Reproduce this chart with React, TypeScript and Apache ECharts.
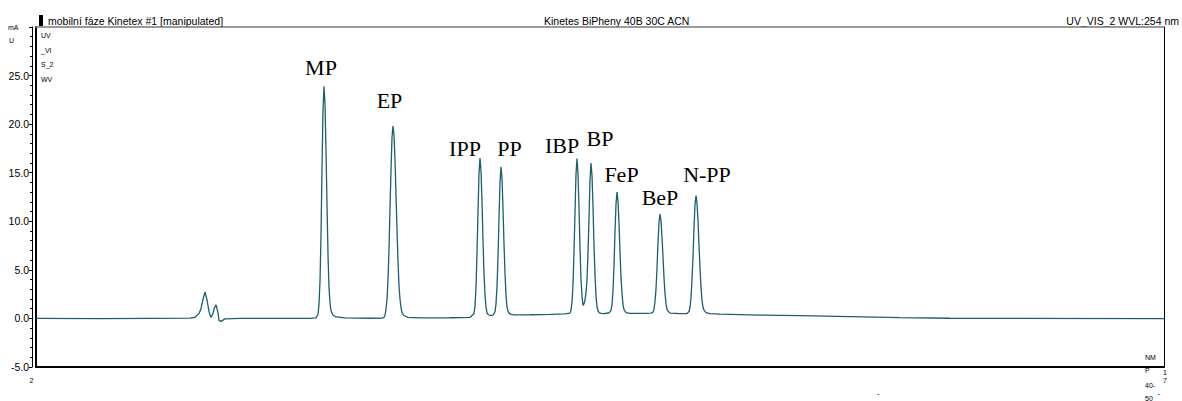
import React, { useEffect, useRef } from "react";
import * as echarts from "echarts";

// Retention time (min) and absorbance (mAU)
const timeMin: number[] = [
  2.0, 2.851, 3.516, 4.048, 4.114, 4.168, 4.194, 4.221, 4.247, 4.274, 4.301, 4.327, 4.354, 4.367, 4.394, 4.42, 4.434, 4.46, 4.513, 4.713,
  5.245, 5.644, 5.723, 5.75, 5.763, 5.777, 5.79, 5.803, 5.816, 5.83, 5.843, 5.856, 5.87, 5.883, 5.896, 5.91, 5.923, 5.949, 5.989, 6.109,
  6.441, 6.601, 6.628, 6.641, 6.654, 6.668, 6.681, 6.694, 6.707, 6.721, 6.734, 6.747, 6.761, 6.774, 6.787, 6.801, 6.814, 6.827, 6.84, 6.854,
  6.867, 6.894, 6.947, 7.106, 7.505, 7.771, 7.824, 7.838, 7.851, 7.864, 7.878, 7.891, 7.904, 7.918, 7.931, 7.944, 7.957, 7.971, 7.984, 7.997,
  8.011, 8.024, 8.051, 8.077, 8.104, 8.117, 8.13, 8.144, 8.157, 8.17, 8.184, 8.197, 8.21, 8.223, 8.237, 8.25, 8.263, 8.277, 8.29, 8.316,
  8.37, 8.569, 8.835, 9.035, 9.101, 9.114, 9.128, 9.141, 9.154, 9.168, 9.181, 9.194, 9.207, 9.221, 9.234, 9.247, 9.261, 9.274, 9.287, 9.301,
  9.314, 9.327, 9.34, 9.354, 9.367, 9.38, 9.394, 9.407, 9.42, 9.434, 9.447, 9.46, 9.473, 9.487, 9.513, 9.553, 9.606, 9.62, 9.646, 9.66,
  9.673, 9.686, 9.699, 9.713, 9.726, 9.739, 9.753, 9.766, 9.779, 9.793, 9.806, 9.819, 9.846, 9.899, 10.098, 10.178, 10.205, 10.218, 10.231, 10.245,
  10.258, 10.271, 10.285, 10.298, 10.311, 10.324, 10.338, 10.351, 10.364, 10.378, 10.391, 10.404, 10.431, 10.564, 10.657, 10.684, 10.697, 10.71, 10.723, 10.737,
  10.75, 10.763, 10.777, 10.79, 10.803, 10.816, 10.83, 10.843, 10.856, 10.87, 10.883, 10.91, 10.963, 11.096, 11.628, 12.16, 12.824, 13.489, 14.154, 14.819,
  17.0,
];

const absorbance: number[] = [
  0.0, -0.02, 0.01, 0.03, 0.12, 0.5, 1.0, 2.0, 2.7, 1.9, 0.7, 0.1, 0.5, 1.0, 1.4, 0.6, -0.2, -0.3, -0.05, 0.0,
  0.0, 0.0, 0.05, 0.4, 1.4, 3.9, 8.6, 15.2, 21.3, 23.9, 22.1, 17.4, 11.6, 6.6, 3.2, 1.6, 0.8, 0.35, 0.15, 0.05,
  0.02, 0.03, 0.1, 0.3, 0.9, 2.0, 4.0, 7.1, 11.1, 15.3, 18.6, 19.8, 18.8, 16.3, 12.8, 9.1, 5.8, 3.4, 2.0, 1.1,
  0.6, 0.3, 0.1, 0.05, 0.07, 0.1, 0.5, 1.3, 3.2, 6.6, 11.0, 14.9, 16.5, 15.2, 12.0, 8.1, 4.7, 2.4, 1.2, 0.6,
  0.4, 0.35, 0.31, 0.33, 0.7, 1.5, 3.2, 6.3, 10.4, 14.0, 15.6, 14.4, 11.4, 7.8, 4.6, 2.4, 1.2, 0.75, 0.55, 0.42,
  0.36, 0.38, 0.42, 0.46, 0.55, 0.85, 1.67, 3.5, 6.8, 11.0, 14.9, 16.45, 15.0, 11.4, 7.3, 4.0, 2.3, 1.35, 1.5, 1.9,
  2.7, 3.9, 6.6, 10.4, 14.2, 16.0, 14.7, 11.5, 7.6, 4.4, 2.3, 1.2, 0.8, 0.6, 0.52, 0.5, 0.56, 0.57, 0.8, 1.45,
  2.9, 5.4, 8.8, 11.8, 13.0, 12.1, 9.8, 6.9, 4.3, 2.5, 1.4, 0.9, 0.6, 0.52, 0.52, 0.55, 0.65, 0.95, 1.7, 3.05,
  5.2, 7.75, 9.9, 10.75, 10.1, 8.4, 6.3, 4.2, 2.6, 1.5, 0.95, 0.75, 0.55, 0.5, 0.5, 0.72, 1.15, 2.1, 3.9, 6.4,
  9.3, 11.7, 12.65, 11.9, 10.1, 7.6, 5.2, 3.2, 1.9, 1.15, 0.85, 0.6, 0.5, 0.45, 0.35, 0.28, 0.18, 0.08, 0.02, 0.0,
  -0.02,
];

const peakNames: string[] = ["MP", "EP", "IPP", "PP", "IBP", "BP", "FeP", "BeP", "N-PP"];
const yTicks: number[] = [-5, 0, 5, 10, 15, 20, 25, 30];

const SANS = "'Liberation Sans', Arial, Helvetica, sans-serif";
const SERIF = "'Liberation Serif', 'Times New Roman', serif";

// label anchor positions (pixels) for peak names
const peakLabelPos: [number, number][] = [
  [321, 67.5], [389.5, 100.5], [465, 148], [509.5, 148], [562, 145.5], [600, 138.5], [621.5, 174.5], [660, 197.5], [707, 174.5],
];

function txt(text: string, x: number, y: number, size: number, align: string = "left", family: string = SANS) {
  return {
    type: "text",
    x,
    y,
    silent: true,
    style: { text, fill: "#000", fontSize: size, fontFamily: family, align, verticalAlign: "middle" },
  };
}

export default function App() {
  const ref = useRef<HTMLDivElement>(null);

  useEffect(() => {
    if (!ref.current) return;
    const chart = echarts.init(ref.current, null, { renderer: "svg" });
    const data = timeMin.map((t, i) => [t, absorbance[i]]);

    const graphic: any[] = [
      { type: "rect", shape: { x: 39, y: 15, width: 4, height: 11 }, style: { fill: "#000" } },
      txt("mobilní fáze Kinetex #1 [manipulated]", 48, 20.5, 10.5),
      txt("Kinetes BiPheny 40B 30C ACN", 544, 20.5, 10.5),
      txt("UV_VIS_2 WVL:254 nm", 1179, 20.5, 10.5, "right"),
      txt("mA", 8, 27, 7),
      txt("U", 9, 40, 7),
      txt("UV", 41, 35, 7),
      txt("_VI", 41, 50, 7),
      txt("S_2", 41, 64, 7),
      txt("WV", 41, 79, 7),
      txt("2", 31.5, 380, 7, "center"),
      txt("NM", 1145, 357, 7),
      txt("P", 1145, 370, 7),
      txt("40-", 1145, 385, 7),
      txt("50", 1145, 398, 7),
      txt("1", 1163, 372, 7),
      txt("7", 1163, 380.5, 7),
      txt("ˇ", 1158, 396, 7),
      txt("ˇ", 877, 396, 7),
    ];
    peakNames.forEach((name, i) => {
      const [x, y] = peakLabelPos[i];
      graphic.push(txt(name, x, y, 22, "center", SERIF));
    });

    chart.setOption({
      animation: false,
      backgroundColor: "#fff",
      grid: { left: 36, right: 18, top: 27, bottom: 34, containLabel: false },
      xAxis: [
        {
          type: "value",
          min: 2,
          max: 17,
          position: "bottom",
          axisLine: { show: true, onZero: false, lineStyle: { color: "#000", width: 2 } },
          axisTick: { show: false },
          axisLabel: { show: false },
          splitLine: { show: false },
        },
        {
          type: "value",
          min: 2,
          max: 17,
          position: "top",
          axisLine: { show: true, onZero: false, lineStyle: { color: "#7a7a7a", width: 1.5 } },
          axisTick: { show: false },
          axisLabel: { show: false },
          splitLine: { show: false },
        },
      ],
      yAxis: [
        {
          type: "value",
          min: yTicks[0],
          max: yTicks[yTicks.length - 1],
          interval: 5,
          position: "left",
          offset: 4,
          axisLine: { show: true, onZero: false, lineStyle: { color: "#000", width: 1 } },
          axisTick: { show: true, length: 3, lineStyle: { color: "#000" } },
          minorTick: { show: true, splitNumber: 5, length: 2, lineStyle: { color: "#000" } },
          axisLabel: {
            margin: 3,
            color: "#000",
            fontSize: 10.5,
            fontFamily: SANS,
            formatter: (v: number) => (v >= 30 ? "" : v.toFixed(1)),
          },
          splitLine: { show: false },
        },
        {
          type: "value",
          min: yTicks[0],
          max: yTicks[yTicks.length - 1],
          position: "left",
          offset: 0,
          axisLine: { show: true, onZero: false, lineStyle: { color: "#000", width: 2 } },
          axisTick: { show: false },
          axisLabel: { show: false },
          splitLine: { show: false },
        },
        {
          type: "value",
          min: yTicks[0],
          max: yTicks[yTicks.length - 1],
          position: "right",
          axisLine: { show: true, onZero: false, lineStyle: { color: "#000", width: 1 } },
          axisTick: { show: false },
          axisLabel: { show: false },
          splitLine: { show: false },
        },
      ],
      series: [
        {
          type: "line",
          xAxisIndex: 0,
          yAxisIndex: 0,
          data,
          showSymbol: false,
          symbol: "none",
          smooth: false,
          lineStyle: { color: "#1f5d6c", width: 1.3 },
        },
      ],
      graphic,
    });

    return () => chart.dispose();
  }, []);

  return (
    <div
      ref={ref}
      style={{ position: "fixed", left: 0, top: 0, width: 1182, height: 401, background: "#fff" }}
    />
  );
}
